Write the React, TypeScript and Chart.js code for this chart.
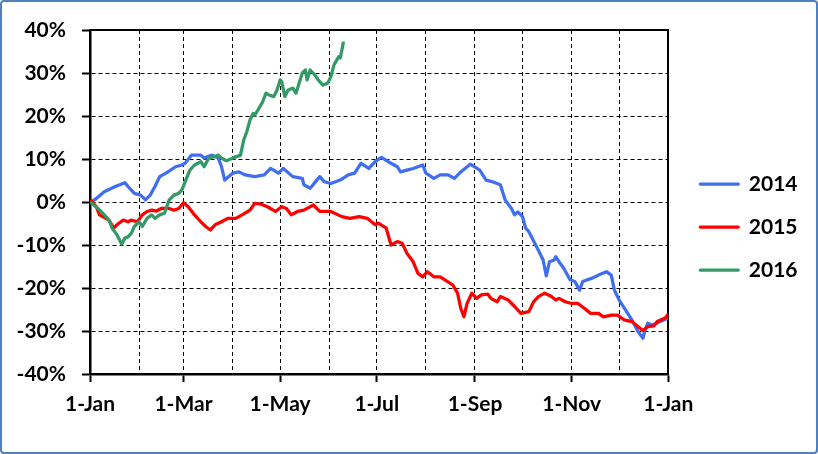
import React, { useEffect, useRef } from "react";
import { Chart, registerables } from "chart.js";

Chart.register(...registerables);

// x positions are day-of-year offsets (0 = 1-Jan, 365 = next 1-Jan)
const monthStarts = [0, 31, 59, 90, 120, 151, 181, 212, 243, 273, 304, 334, 365];
const monthLabels = ["1-Jan", "", "1-Mar", "", "1-May", "", "1-Jul", "", "1-Sep", "", "1-Nov", "", "1-Jan"];

const seriesNames = ["2014", "2015", "2016"];
const seriesColors = ["#3F6FF0", "#FF0000", "#339966"];

const days2014 = [0, 3, 9, 16, 22, 24, 28, 32, 35, 38, 41, 44, 48, 54, 58, 60, 64, 70, 72, 77, 81, 83, 85, 90, 94, 98, 104, 110, 114, 119, 122, 128, 134, 135, 139, 145, 148, 152, 158, 163, 167, 171, 176, 180, 184, 190, 194, 196, 200, 204, 210, 212, 217, 221, 226, 230, 234, 240, 246, 250, 254, 259, 262, 266, 268, 270, 273, 275, 277, 283, 286, 288, 290, 293, 294, 296, 299, 303, 306, 309, 311, 314, 317, 321, 326, 329, 331, 334, 338, 342, 346, 349, 350, 352, 355, 360, 365];
const vals2014 = [0, 0.5, 2.4, 3.6, 4.5, 3.6, 2.0, 1.6, 0.5, 1.6, 3.6, 5.9, 6.7, 8.2, 8.6, 9.0, 10.9, 10.9, 10.2, 10.9, 10.2, 8.2, 5.1, 6.7, 7.0, 6.3, 5.9, 6.3, 7.8, 6.7, 7.8, 5.9, 5.5, 4.0, 3.2, 5.9, 4.7, 4.3, 5.1, 6.3, 6.7, 9.0, 7.8, 9.4, 10.4, 9.0, 8.2, 7.0, 7.4, 7.8, 8.6, 6.7, 5.5, 6.3, 6.3, 5.5, 7.0, 8.8, 7.4, 5.1, 4.7, 4.0, 0.5, -1.5, -3.0, -2.3, -3.4, -6.1, -6.9, -11.2, -13.5, -17.2, -13.9, -13.5, -12.7, -13.9, -15.4, -18.1, -18.5, -20.5, -18.5, -18.1, -17.7, -17.0, -16.2, -17.0, -20.5, -22.8, -25.1, -27.4, -30.2, -31.7, -30.2, -28.2, -28.6, -27.8, -27.0];

const days2015 = [0, 1, 4, 6, 8, 12, 15, 17, 21, 24, 26, 30, 33, 36, 39, 42, 45, 50, 53, 56, 59, 62, 66, 70, 73, 76, 79, 83, 87, 92, 96, 101, 104, 108, 112, 117, 121, 124, 127, 131, 135, 141, 145, 152, 159, 164, 170, 175, 180, 182, 187, 190, 194, 197, 200, 204, 207, 210, 213, 217, 221, 224, 229, 232, 234, 236, 238, 241, 244, 247, 251, 253, 257, 259, 264, 268, 272, 277, 280, 283, 287, 291, 294, 296, 300, 304, 308, 312, 316, 321, 324, 329, 333, 337, 342, 346, 349, 352, 356, 358, 363, 365];
const vals2015 = [0, 0.2, -1.1, -3.0, -3.4, -4.2, -6.1, -5.3, -4.2, -4.6, -4.2, -4.6, -3.0, -2.2, -1.9, -2.1, -1.5, -1.5, -1.9, -1.5, -0.2, -1.1, -3.0, -4.6, -5.7, -6.5, -5.3, -4.6, -3.8, -3.8, -3.0, -1.9, -0.3, -0.5, -1.1, -2.2, -1.1, -1.5, -3.0, -2.2, -1.9, -0.7, -2.2, -2.2, -3.4, -3.8, -3.4, -3.8, -5.3, -4.9, -6.1, -10.0, -9.2, -9.6, -11.9, -13.9, -16.6, -17.4, -16.2, -17.4, -17.4, -18.1, -19.3, -21.2, -24.7, -26.7, -23.6, -21.2, -22.4, -21.6, -21.4, -22.4, -23.2, -22.0, -22.8, -24.3, -25.9, -25.5, -23.2, -22.0, -21.2, -21.9, -22.8, -22.4, -23.2, -23.6, -23.6, -24.7, -25.9, -25.9, -26.7, -26.3, -26.3, -27.4, -27.8, -29.0, -29.9, -29.0, -28.8, -27.8, -27.0, -26.1];

const days2016 = [0, 5, 8, 12, 14, 17, 20, 22, 24, 26, 28, 31, 33, 36, 39, 41, 44, 47, 50, 53, 56, 58, 60, 63, 66, 70, 72, 75, 78, 81, 83, 86, 90, 95, 97, 99, 101, 103, 104, 106, 109, 111, 113, 116, 118, 120, 121, 123, 125, 128, 130, 132, 134, 136, 137, 139, 142, 144, 147, 150, 152, 154, 157, 158, 160];
const vals2016 = [0, -1.5, -2.6, -4.2, -6.1, -7.6, -9.8, -8.4, -8.1, -7.3, -5.7, -4.6, -5.7, -3.8, -3.0, -3.8, -3.0, -2.6, 0.5, 1.6, 2.0, 2.8, 4.7, 7.4, 8.6, 9.4, 8.2, 10.2, 10.5, 10.9, 10.2, 9.6, 10.2, 10.9, 14.4, 16.4, 19.1, 20.6, 20.2, 21.4, 23.3, 25.3, 24.9, 24.5, 26.0, 28.4, 28.0, 24.5, 26.0, 26.5, 25.3, 27.6, 30.0, 30.7, 28.4, 30.7, 29.5, 28.4, 27.2, 27.6, 29.1, 31.9, 33.8, 33.5, 37.3];

const yMin = -40;
const yMax = 40;
const yStep = 10;

export default function App() {
  const ref = useRef<HTMLCanvasElement>(null);

  useEffect(() => {
    const FONT = { family: 'Lato, "Liberation Sans", Arial, sans-serif', size: 21, weight: "bold" as const };
    const mk = (d: number[], v: number[]) => d.map((x, i) => ({ x, y: v[i] }));
    const allDays = [days2014, days2015, days2016];
    const allVals = [vals2014, vals2015, vals2016];

    const datasets = seriesNames.map((name, i) => ({
      label: name,
      data: mk(allDays[i], allVals[i]),
      borderColor: seriesColors[i],
      backgroundColor: seriesColors[i],
      borderWidth: 3.25,
      pointRadius: 0,
      pointHoverRadius: 0,
      tension: 0,
      borderJoinStyle: "round" as const,
      borderCapStyle: "butt" as const,
      order: 3 - i,
    }));

    const chart = new Chart(ref.current as HTMLCanvasElement, {
      type: "line",
      data: { datasets },
      options: {
        animation: false,
        responsive: false,
        maintainAspectRatio: false,
        events: [],
        layout: { padding: { top: 30, left: 0, right: 10.5, bottom: 30 } },
        plugins: {
          tooltip: { enabled: false },
          legend: {
            display: true,
            position: "right",
            align: "center",
            labels: {
              boxWidth: 38,
              boxHeight: 0,
              padding: 22,
              color: "#000",
              font: FONT,
              sort: (a: any, b: any) => a.datasetIndex - b.datasetIndex,
            },
          },
        },
        scales: {
          x: {
            type: "linear",
            position: "bottom",
            min: 0,
            max: 365,
            afterBuildTicks: (s: any) => {
              s.ticks = monthStarts.map((v) => ({ value: v }));
            },
            afterFit: (s: any) => {
              s.height = 50;
            },
            ticks: {
              autoSkip: false,
              maxRotation: 0,
              minRotation: 0,
              padding: 10,
              color: "#000",
              font: FONT,
              callback: (_v: any, i: number) => monthLabels[i],
            },
            grid: {
              color: "#000",
              lineWidth: 1,
              drawTicks: true,
              tickLength: 8,
              tickWidth: 2,
              tickColor: (c: any) => (c.index % 2 === 0 ? "#000" : "rgba(0,0,0,0)"),
            },
            border: { display: true, color: "#000", width: 2.5, dash: [4, 3] },
          },
          y: {
            type: "linear",
            position: "left",
            min: yMin,
            max: yMax,
            afterFit: (s: any) => {
              s.width = 90;
            },
            ticks: {
              stepSize: yStep,
              padding: 16,
              color: "#000",
              font: FONT,
              callback: (v: any) => `${v}%`,
            },
            grid: {
              color: "#000",
              lineWidth: 1,
              drawTicks: true,
              tickLength: 8,
              tickWidth: 2,
              tickColor: "#000",
            },
            border: { display: true, color: "#000", width: 2.5, dash: [4, 3] },
          },
          yR: {
            type: "linear",
            position: "right",
            display: true,
            grid: { display: false },
            ticks: { display: false },
            border: { display: true, color: "#000", width: 2 },
            afterFit: (s: any) => {
              s.width = 10;
            },
          },
          xT: {
            type: "linear",
            position: "top",
            display: true,
            grid: { display: false },
            ticks: { display: false },
            border: { display: true, color: "#000", width: 2 },
            afterFit: (s: any) => {
              s.height = 0;
            },
          },
        },
      } as any,
    });
    return () => chart.destroy();
  }, []);

  return (
    <div style={{ position: "absolute", left: 0, top: 0, width: 818, height: 454 }}>
      <div
        style={{
          position: "absolute",
          left: 0,
          top: 0,
          width: 818,
          height: 454,
          border: "2px solid #4F81BD",
          borderRadius: 4,
          boxSizing: "border-box",
          background: "#fff",
        }}
      />
      <canvas
        ref={ref}
        width={818}
        height={454}
        style={{ position: "absolute", left: 0, top: 0, width: 818, height: 454 }}
      />
    </div>
  );
}
